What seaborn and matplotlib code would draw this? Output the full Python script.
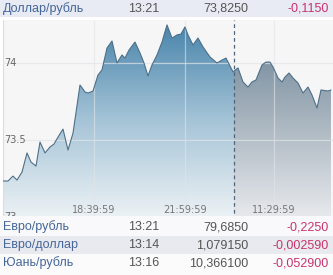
import numpy as np
import pandas as pd
import seaborn as sns
import matplotlib
matplotlib.use("Agg")
import matplotlib.pyplot as plt
from matplotlib.colors import LinearSegmentedColormap
from matplotlib.patches import PathPatch, Rectangle
from matplotlib.transforms import blended_transform_factory

# ---------------- data ----------------
t = [3, 8, 13, 17, 22, 27, 31, 36, 40, 45, 50, 54, 58, 63, 68, 73, 80, 85, 88, 93,
     98, 102, 107, 112, 117, 122, 125, 129, 135, 140, 144, 148, 152, 157, 162, 167,
     172, 177, 181, 185, 188, 193, 198, 203, 210, 217, 222, 226, 233, 238, 243, 248,
     252, 256, 262, 266, 270, 273, 278, 282, 285, 289, 293, 298, 303, 308, 312, 317,
     321, 328, 331]
rate = [73.234, 73.234, 73.266, 73.240, 73.292, 73.416, 73.357, 73.331, 73.487, 73.416,
        73.455, 73.474, 73.519, 73.571, 73.435, 73.545, 73.857, 73.812, 73.805, 73.818,
        73.922, 73.955, 74.097, 74.143, 74.000, 74.052, 74.032, 74.084, 74.136, 74.065,
        74.000, 73.916, 73.987, 74.052, 74.136, 74.247, 74.162, 74.182, 74.188, 74.234,
        74.182, 74.117, 74.162, 74.104, 74.039, 74.000, 74.019, 74.032, 73.942, 73.968,
        73.877, 73.844, 73.877, 73.890, 73.987, 74.006, 74.006, 73.974, 73.903, 73.877,
        73.909, 73.935, 73.903, 73.870, 73.805, 73.844, 73.792, 73.708, 73.825, 73.818,
        73.825]
split_t = 234
tick_t = [94, 185, 274]
tick_labels = ["18:39:59", "21:59:59", "11:29:59"]
ytick_vals = [73, 73.5, 74]
ytick_labels = ["73", "73.5", "74"]

header = ["Доллар/рубль", "13:21", "73,8250", "-0,1150"]
rows_name = ["Евро/рубль", "Евро/доллар", "Юань/рубль"]
rows_time = ["13:21", "13:14", "13:16"]
rows_value = ["79,6850", "1,079150", "10,366100"]
rows_change = ["-0,2250", "-0,002590", "-0,052900"]

df = pd.DataFrame({"t": t, "rate": rate})

# ---------------- figure ----------------
sns.set_theme(style="white")
plt.rcParams["font.family"] = ["Liberation Sans", "DejaVu Sans"]

W, H = 333, 275
fig = plt.figure(figsize=(W / 100, H / 100), dpi=100)
fig.patch.set_facecolor("white")

ax_top, ax_bot = 20, 220
ax = fig.add_axes([3 / W, (H - ax_bot) / H, (W - 3) / W, (ax_bot - ax_top) / H])
ax.set_facecolor("#f6f6f7")

ylo, yhi = 72.981, 74.279
xlo, xhi = 3, 333

# gradient fill under the line (two parts)
poly = ax.fill_between(df["t"], df["rate"], ylo, facecolor="none", edgecolor="none")
path = poly.get_paths()[0]
clip = PathPatch(path, transform=ax.transData, facecolor="none", edgecolor="none")
ax.add_patch(clip)
grad = np.linspace(0, 1, 256).reshape(-1, 1)
cm_left = LinearSegmentedColormap.from_list("l", ["#eef3f6", "#a6c4d7", "#4683aa"])
cm_right = LinearSegmentedColormap.from_list("r", ["#e9ebee", "#a9b5bf", "#678094"])
im1 = ax.imshow(grad, extent=[xlo, split_t, ylo, 74.26], origin="lower",
                aspect="auto", cmap=cm_left, zorder=1)
im1.set_clip_path(clip)
im2 = ax.imshow(grad, extent=[split_t, xhi, ylo, 74.26], origin="lower",
                aspect="auto", cmap=cm_right, zorder=1)
im2.set_clip_path(clip)

sns.lineplot(data=df, x="t", y="rate", ax=ax, color="#4e7089", lw=0.8, zorder=4)

ax.set_xlim(xlo, xhi)
ax.set_ylim(ylo, yhi)

# grid
for xv in tick_t:
    ax.axvline(xv, color="#e2e5e8", lw=0.9, alpha=0.6, zorder=3)
for yv in ytick_vals[1:]:
    ax.axhline(yv, color="#e2e5e8", lw=0.9, alpha=0.7, zorder=3)
ax.axvline(split_t, color="#50657a", lw=0.9, ls=(0, (3, 2.5)), zorder=5)

ax.set_xticks([])
ax.set_yticks([])
ax.set_xlabel("")
ax.set_ylabel("")
for s in ["top", "right", "bottom"]:
    ax.spines[s].set_visible(False)
ax.spines["left"].set_color("#dcdcdc")
ax.spines["left"].set_linewidth(0.8)

ytr = blended_transform_factory(ax.transAxes, ax.transData)
for v, lab in zip(ytick_vals, ytick_labels):
    ax.text(0.003, v, lab, transform=ytr, ha="left", va="center", fontsize=7,
            color="#666666", family="DejaVu Sans", zorder=6)
xtr = blended_transform_factory(ax.transData, ax.transAxes)
for v, lab in zip(tick_t, tick_labels):
    ax.text(v, 0.05, lab, transform=xtr, ha="center", va="center", fontsize=7,
            color="#777777", family="DejaVu Sans", zorder=6)

# header
def fy(px):
    return 1 - px / H

fig.add_artist(Rectangle((0, fy(17)), 1, 17 / H, transform=fig.transFigure,
                         facecolor="#e8ebf3", edgecolor="none", zorder=10))
hy = fy(8.5)
fig.text(3 / W, hy, header[0], ha="left", va="center", fontsize=9, color="#45679a", zorder=11)
fig.text(128 / W, hy, header[1], ha="left", va="center", fontsize=9, color="#555555", zorder=11)
fig.text(248 / W, hy, header[2], ha="right", va="center", fontsize=9, color="#555555", zorder=11)
fig.text(329 / W, hy, header[3], ha="right", va="center", fontsize=9, color="#c8336e", zorder=11)

# table rows
row_top = [216, 236, 254]
row_bot = [236, 254, 275]
row_cy = [227, 245, 263]
row_bg = ["#f9f9fb", "#e9eaef", "#fbfbfc"]
for i in range(3):
    top, bot = row_top[i], row_bot[i]
    fig.add_artist(Rectangle((0, fy(bot)), 1, (bot - top) / H, transform=fig.transFigure,
                             facecolor=row_bg[i], edgecolor="none", zorder=10))
    cy = fy(row_cy[i])
    fig.text(3 / W, cy, rows_name[i], ha="left", va="center", fontsize=9, color="#45679a", zorder=11)
    fig.text(128 / W, cy, rows_time[i], ha="left", va="center", fontsize=9, color="#555555", zorder=11)
    fig.text(248 / W, cy, rows_value[i], ha="right", va="center", fontsize=9, color="#555555", zorder=11)
    fig.text(329 / W, cy, rows_change[i], ha="right", va="center", fontsize=9, color="#c8336e", zorder=11)

fig.savefig("out.png", dpi=100)
